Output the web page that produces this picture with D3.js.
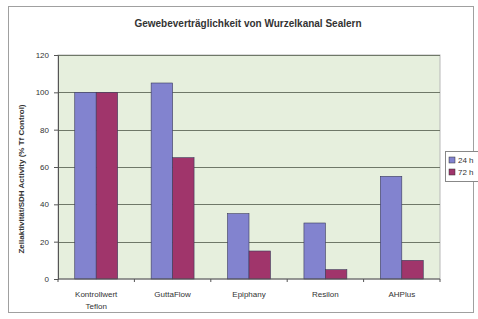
<!DOCTYPE html>
<html>
<head>
<meta charset="utf-8">
<script src="https://cdn.jsdelivr.net/npm/d3@7"></script>
<style>
  body { margin: 0; background: #fff; }
  svg { font-family: Arial, "Liberation Sans", sans-serif; }
</style>
</head>
<body>
<svg id="chart" width="478" height="319"></svg>
<script>
// data
const categories = [["Kontrollwert", "Teflon"], ["GuttaFlow"], ["Epiphany"], ["Resilon"], ["AHPlus"]];
const series = ["24 h", "72 h"];
const values24 = [100, 105, 35, 30, 55];
const values72 = [100, 65, 15, 5, 10];
const yTicks = [0, 20, 40, 60, 80, 100, 120];
const colors = ["#8283cf", "#a0356b"];

var svg = d3.select("#chart");
var plotL = 58, plotR = 440, plotT = 55, plotB = 279;

// outer frame
svg.append("rect")
    .attr("x", 8.5).attr("y", 6.5)
    .attr("width", 465).attr("height", 306)
    .attr("fill", "#fff")
    .attr("stroke", "#a0a0a0");

svg.append("text")
    .attr("x", 248).attr("y", 27)
    .attr("text-anchor", "middle")
    .attr("font-size", 10).attr("font-weight", "bold")
    .attr("fill", "#333")
    .text("Gewebeverträglichkeit von Wurzelkanal Sealern");

var x = d3.scaleBand()
    .domain(d3.range(categories.length))
    .range([plotL, plotR]);
var xs = d3.scaleBand()
    .domain([0, 1])
    .range([0, x.bandwidth()])
    .paddingInner(0)
    .paddingOuter(0.78);
var y = d3.scaleLinear().domain([0, 120]).range([plotB, plotT]);

// plot background
svg.append("rect")
    .attr("x", plotL).attr("y", plotT)
    .attr("width", plotR - plotL).attr("height", plotB - plotT)
    .attr("fill", "#e6efdd")
    .attr("stroke", "#b8b8b8");

// gridlines
svg.append("g")
    .selectAll("line")
    .data(yTicks.filter(d => d > 0))
    .enter().append("line")
    .attr("x1", plotL).attr("x2", plotR)
    .attr("y1", d => Math.round(y(d)) + 0.5)
    .attr("y2", d => Math.round(y(d)) + 0.5)
    .attr("stroke", "#6f7868").attr("stroke-width", 1);

var data = categories.map((c, i) => ({ i: i, v: [values24[i], values72[i]] }));

var group = svg.append("g").selectAll("g")
    .data(data)
    .enter().append("g")
    .attr("transform", d => "translate(" + x(d.i) + ",0)");

group.selectAll("rect")
    .data(d => d.v.map((v, k) => ({ k: k, v: v })))
    .enter().append("rect")
    .attr("x", d => xs(d.k))
    .attr("y", d => y(d.v))
    .attr("width", xs.bandwidth())
    .attr("height", d => y(0) - y(d.v))
    .attr("fill", d => colors[d.k])
    .attr("stroke", "#3a3a5a").attr("stroke-width", 0.6);

// y axis
var yAxis = svg.append("g")
    .attr("transform", "translate(" + plotL + ",0)")
    .call(d3.axisLeft(y).tickValues(yTicks).tickSize(4).tickPadding(5));
yAxis.select(".domain").attr("stroke", "#555");
yAxis.selectAll(".tick line").attr("stroke", "#555");
yAxis.selectAll("text").attr("font-size", 8).attr("fill", "#333");

// x axis
var xAxis = svg.append("g")
    .attr("transform", "translate(0," + plotB + ")");
xAxis.append("line")
    .attr("x1", plotL).attr("x2", plotR)
    .attr("stroke", "#555");
xAxis.selectAll(".tk")
    .data(d3.range(categories.length + 1))
    .enter().append("line")
    .attr("x1", i => plotL + i * x.step()).attr("x2", i => plotL + i * x.step())
    .attr("y1", 0).attr("y2", 3)
    .attr("stroke", "#555");

var labels = svg.append("g").selectAll("text")
    .data(categories)
    .enter().append("text")
    .attr("x", (d, i) => x(i) + x.bandwidth() / 2)
    .attr("y", 297)
    .attr("text-anchor", "middle")
    .attr("font-size", 8).attr("fill", "#333");
labels.selectAll("tspan")
    .data(d => d)
    .enter().append("tspan")
    .attr("x", function () { return this.parentNode.getAttribute("x"); })
    .attr("dy", (d, i) => i === 0 ? 0 : 12)
    .text(d => d);

// y label
svg.append("text")
    .attr("transform", "translate(24," + ((plotT + plotB) / 2 + 12) + ") rotate(-90)")
    .attr("text-anchor", "middle")
    .attr("font-size", 8).attr("font-weight", "bold")
    .attr("fill", "#333")
    .text("Zellaktivität/SDH Activity (% Tf Control)");

// legend (cut off at the right edge)
var legend = svg.append("g");
legend.append("rect")
    .attr("x", 445.5).attr("y", 151.5)
    .attr("width", 40).attr("height", 30)
    .attr("fill", "#fff").attr("stroke", "#888");
var li = legend.selectAll("g")
    .data(series)
    .enter().append("g")
    .attr("transform", (d, i) => "translate(449," + (157 + i * 12) + ")");
li.append("rect")
    .attr("width", 6).attr("height", 6)
    .attr("fill", (d, i) => colors[i])
    .attr("stroke", "#333").attr("stroke-width", 0.5);
li.append("text")
    .attr("x", 9).attr("y", 6)
    .attr("font-size", 8).attr("fill", "#333")
    .text(d => d);
</script>
</body>
</html>
